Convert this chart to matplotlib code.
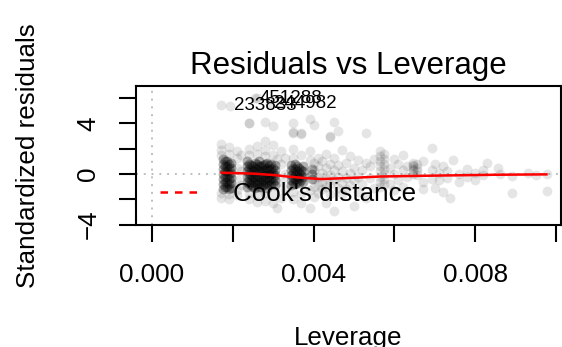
import numpy as np
import matplotlib
matplotlib.use("Agg")
import matplotlib.pyplot as plt
from matplotlib.lines import Line2D

plt.rcParams['font.family'] = ['Liberation Sans', 'DejaVu Sans']

# ---------------- data ----------------
title = "Residuals vs Leverage"
x_label = "Leverage"
y_label = "Standardized residuals"
x_ticks = [0.000, 0.002, 0.004, 0.006, 0.008, 0.010]
x_tick_labels = ["0.000", "", "0.004", "", "0.008", ""]
y_ticks = [-4, -2, 0, 2, 4, 6]
y_tick_labels = ["\u22124", "", "0", "", "4", ""]

# dense core of observations (leverage columns and their residuals)
core_lev = [0.00175, 0.00185, 0.00195, 0.00235, 0.00245, 0.00255, 0.00265, 0.00275,
            0.00285, 0.00295, 0.00305, 0.00345, 0.00355, 0.00365, 0.00375, 0.00395,
            0.0018, 0.0019, 0.0024, 0.0025, 0.0026, 0.0027, 0.0028, 0.0029, 0.0030,
            0.0035, 0.0036, 0.0037]
core_res = [
    [-1.2, -0.8, -0.4, 0.0, 0.4, 0.8, 1.2],
    [-1.0, -0.6, -0.2, 0.2, 0.6, 1.0],
    [-1.1, -0.7, -0.3, 0.1, 0.5, 0.9],
    [-1.0, -0.6, -0.2, 0.2, 0.6, 1.0],
    [-0.9, -0.5, -0.1, 0.3, 0.7],
    [-1.1, -0.7, -0.3, 0.1, 0.5, 0.9],
    [-1.0, -0.6, -0.2, 0.2, 0.6, 1.0],
    [-0.9, -0.5, -0.1, 0.3, 0.7],
    [-1.1, -0.7, -0.3, 0.1, 0.5, 0.9],
    [-0.8, -0.4, 0.0, 0.4, 0.8],
    [-0.9, -0.5, -0.1, 0.3, 0.7],
    [-0.9, -0.5, -0.1, 0.3, 0.7],
    [-0.8, -0.4, 0.0, 0.4, 0.8],
    [-0.7, -0.3, 0.1, 0.5],
    [-0.6, -0.2, 0.2, 0.6],
    [-0.4, 0.0, 0.4],
    [-1.0, -0.6, -0.2, 0.2, 0.6, 1.0],
    [-1.2, -0.8, -0.4, 0.0, 0.4, 0.8],
    [-0.8, -0.4, 0.0, 0.4, 0.8],
    [-1.0, -0.6, -0.2, 0.2, 0.6],
    [-0.8, -0.4, 0.0, 0.4, 0.8],
    [-1.0, -0.6, -0.2, 0.2, 0.6],
    [-0.8, -0.4, 0.0, 0.4, 0.8],
    [-0.9, -0.5, -0.1, 0.3, 0.7],
    [-0.7, -0.3, 0.1, 0.5],
    [-0.7, -0.3, 0.1, 0.5],
    [-0.6, -0.2, 0.2, 0.6],
    [-0.5, -0.1, 0.3],
]

# sparser observations
sparse_lev = [0.0017, 0.0019, 0.0021, 0.0022, 0.0024, 0.0026, 0.0028, 0.0030, 0.0031,
              0.0032, 0.0033, 0.0035, 0.0037, 0.0039, 0.0040, 0.0041, 0.0042, 0.0043,
              0.0044, 0.0045, 0.0046, 0.0047, 0.0048, 0.0049, 0.0050, 0.0051, 0.0052,
              0.0053, 0.0054, 0.0055, 0.00565, 0.00575, 0.0059, 0.0060, 0.0061, 0.0062,
              0.0063, 0.00645, 0.00655, 0.0067, 0.00692, 0.0070, 0.0071, 0.0072, 0.0073,
              0.00738, 0.00746, 0.0076, 0.0078, 0.0080, 0.0082, 0.00828, 0.00857, 0.0086,
              0.0089, 0.0093, 0.0095, 0.00977]
sparse_res = [
    [2.4, 1.9, 1.5, -1.5, -1.9, 5.5],
    [2.1, 1.6, -1.6, -2.0],
    [1.8, 1.3, 0.5, -0.5, -1.3, -1.7],
    [1.5, 0.2, -0.9],
    [2.0, 1.5, -1.5, -2.0, 4.0, 4.05],
    [2.2, 1.6, -1.6, -2.2, 6.0],
    [1.9, 1.4, -1.5, -2.1, 2.6, 4.15],
    [2.3, 1.5, -1.6, -2.3, 3.8],
    [-2.7, 1.2],
    [1.8, 0.8, -0.6, -1.9],
    [1.3, 0.0, -1.3],
    [2.0, 1.3, -1.4, -2.0, 4.0, 3.3, 3.25],
    [1.5, -1.6, -2.3, 3.2, 3.25],
    [1.8, 1.1, -1.3, -2.7, 4.35],
    [0.9, 0.3, -0.4, -1.0, -1.8, 3.9],
    [1.3, 0.6, -0.2, -0.8, -1.5],
    [1.0, 0.1, -0.6, -1.2],
    [1.6, 0.5, -0.3, -1.0, -2.3],
    [0.8, -0.1, -0.8, -1.6, 2.95, 3.0],
    [1.3, 0.3, -0.5, -2.9, 4.15],
    [0.7, -0.2, -1.1, 3.4],
    [1.9, 0.2, -0.7, -1.6],
    [0.9, -0.3, -1.2],
    [1.4, 0.1, -0.9],
    [0.5, -0.5, -2.5],
    [1.1, -0.2, -1.4],
    [0.3, -0.8],
    [0.9, -1.9, 3.27],
    [-0.3, 0.6],
    [1.2, -1.1],
    [1.8, 1.4, 1.0, 0.6, 0.2, -0.2, -0.6, -1.0],
    [1.6, 1.2, 0.8, 0.4, 0.0, -0.4, -0.8],
    [0.5, -0.8],
    [1.2, 0.0, -1.3],
    [0.8, -0.5],
    [0.3, -1.0, 1.5],
    [0.6, -0.2],
    [0.9, 0.6, 0.3, 0.0, 0.7, 0.4],
    [0.8, 0.5, 0.2, -0.1],
    [1.0, -0.6, -1.2],
    [2.03, 0.3, -0.4],
    [0.8, -1.1],
    [0.1, -0.5],
    [0.6, -1.4],
    [0.2, -0.3],
    [-1.92],
    [1.08],
    [0.0, -0.6],
    [0.4, -0.2],
    [0.1, -0.5],
    [0.3, -0.1],
    [0.87],
    [0.47],
    [0.0],
    [-0.18, -1.53],
    [0.1],
    [-0.1],
    [-1.33, 0.0],
]

# labelled observations
id_labels = ["233833", "451288", "244982"]
id_lev = [0.00193, 0.00255, 0.00292]
id_res = [5.42, 6.0, 5.6]

# smoother
fit_lev = [0.00173, 0.0025, 0.0030, 0.00334, 0.0038, 0.0042, 0.0050, 0.00564, 0.00695, 0.0085, 0.00976]
fit_res = [0.10, 0.03, -0.08, -0.20, -0.32, -0.40, -0.30, -0.20, -0.13, -0.06, -0.03]

legend_label = "Cook's distance"

# ---------------- plot ----------------
W, H = 562, 347
fig = plt.figure(figsize=(W / 100, H / 100), dpi=100)
ax = fig.add_axes([136 / W, 1 - 224.5 / H, 425 / W, 138.5 / H])

ax.set_xlim(-0.000393, 0.01012)
ax.set_ylim(-4.0, 6.97)

ax.axhline(0, color='#bebebe', lw=1.4, linestyle=(0, (1, 3)), zorder=1)
ax.axvline(0, color='#bebebe', lw=1.4, linestyle=(0, (1, 3)), zorder=1)

msize = 50
sx = [x for x, col in zip(sparse_lev, sparse_res) for _ in col]
sy = [y for col in sparse_res for y in col]
ax.scatter(sx, sy, s=msize, color='black', alpha=0.1, linewidths=0, zorder=2)
ax.scatter(id_lev, id_res, s=msize, color='black', alpha=0.1, linewidths=0, zorder=2)

cx = [x for x, col in zip(core_lev, core_res) for _ in col]
cy = [y for col in core_res for y in col]
ax.scatter(cx, cy, s=msize, color='black', alpha=0.3, linewidths=0, zorder=2)

ax.plot(fit_lev, fit_res, color='red', lw=1.8, zorder=3)

for lab, x, y in zip(id_labels, id_lev, id_res):
    ax.annotate(lab, (x, y), xytext=(3, 0), textcoords='offset points',
                ha='left', va='center', fontsize=13.5, clip_on=False, zorder=4)

h = Line2D([], [], color='red', lw=1.8, linestyle=(0, (3, 2.8)))
ax.legend([h], [legend_label], loc='center left', bbox_to_anchor=(0.0565, 0.22),
          frameon=False, fontsize=18.7, handlelength=1.6, handletextpad=1.2,
          borderpad=0, borderaxespad=0)

ax.set_xticks(x_ticks)
ax.set_xticklabels(x_tick_labels)
ax.set_yticks(y_ticks)
ax.set_yticklabels(y_tick_labels, rotation=90, va='center')
ax.tick_params(axis='both', direction='out', length=12.2, width=1.5, labelsize=18.7)
ax.tick_params(axis='x', pad=15.8)
ax.tick_params(axis='y', pad=13.5)
for s in ax.spines.values():
    s.set_linewidth(1.5)

ax.set_title(title, fontsize=22.5, pad=8.4)
ax.set_xlabel(x_label, fontsize=18.7)
ax.xaxis.set_label_coords(0.5, -0.735)
ax.set_ylabel(y_label, fontsize=18.7)
ax.yaxis.set_label_coords(-0.225, 0.5)

fig.savefig("out.png", dpi=100)
